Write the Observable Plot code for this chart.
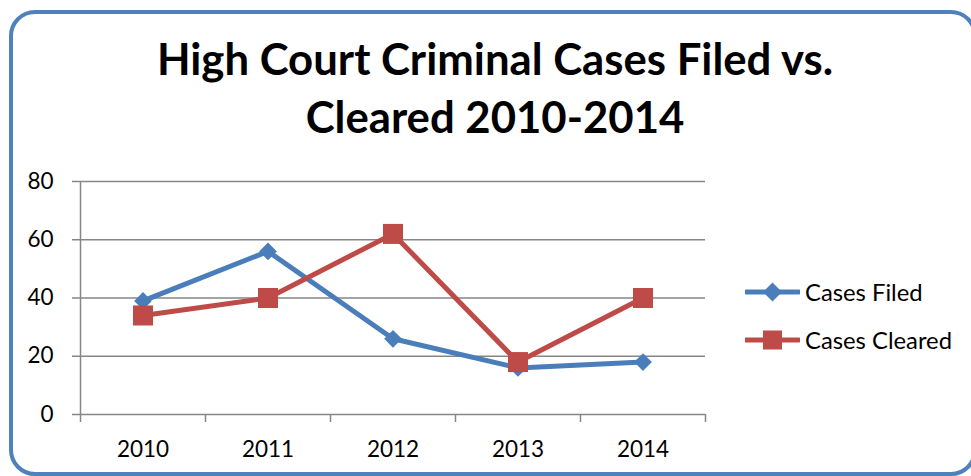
<!DOCTYPE html>
<html>
<head>
<meta charset="utf-8">
<script src="https://cdn.jsdelivr.net/npm/d3@7"></script>
<script src="https://cdn.jsdelivr.net/npm/@observablehq/plot@0.6"></script>
<style>
  html, body { margin: 0; padding: 0; background: #fff; overflow: hidden; }
  #wrap { position: relative; width: 971px; height: 476px; overflow: hidden; font-family: Lato, "Open Sans", sans-serif; color: #000; }
  #frame { position: absolute; left: 9px; top: 10px; width: 960px; height: 458px; border: 4.5px solid #4F81BD; border-radius: 26px; }
  #title { position: absolute; left: 0; top: 29px; width: 990px; text-align: center; font-weight: 700; font-size: 43.7px; line-height: 58px; white-space: nowrap; }
  #chart { position: absolute; left: 0; top: 160px; }
  .leg { position: absolute; left: 745px; display: flex; align-items: center; font-size: 23.8px; height: 30px; white-space: nowrap; }
  .leg svg { margin-right: 5px; }
</style>
</head>
<body>
<div id="wrap">
  <div id="frame"></div>
  <div id="title">High Court Criminal Cases Filed vs.<br>Cleared 2010-2014</div>
  <div id="chart"></div>
  <div id="legend"></div>
</div>
<script>
const years = [2010, 2011, 2012, 2013, 2014];
const casesFiled = [39, 56, 26, 16, 18];
const casesCleared = [34, 40, 62, 18, 40];
const yTicks = [0, 20, 40, 60, 80];
const seriesNames = ["Cases Filed", "Cases Cleared"];
const seriesColors = ["#4A7EBB", "#BE4B48"];

const filed = years.map((y, i) => ({year: y, value: casesFiled[i]}));
const cleared = years.map((y, i) => ({year: y, value: casesCleared[i]}));
const boundaries = years.map(y => y - 0.5).concat([years[years.length - 1] + 0.5]);

const gridColor = "#868686";

const chart = Plot.plot({
  width: 971,
  height: 316,
  marginLeft: 80,
  marginRight: 266,
  marginTop: 21,
  marginBottom: 62,
  style: {fontFamily: "Lato, 'Open Sans', sans-serif", color: "#000", background: "transparent", overflow: "visible"},
  x: {type: "linear", domain: [boundaries[0], boundaries[boundaries.length - 1]], axis: null},
  y: {domain: [0, 80], axis: null},
  marks: [
    Plot.gridY(yTicks, {stroke: gridColor, strokeOpacity: 1, strokeWidth: 1.5}),
    Plot.ruleX([boundaries[0]], {stroke: gridColor, strokeWidth: 1.5}),
    Plot.axisY(yTicks, {label: null, tickSize: 8, tickPadding: 19, fontSize: 22.5, stroke: gridColor, strokeWidth: 1.5, strokeOpacity: 1, fill: "#000"}),
    Plot.axisX(boundaries, {label: null, tickSize: 8, tickFormat: () => "", stroke: gridColor, strokeWidth: 1.5, strokeOpacity: 1}),
    Plot.axisX(years, {label: null, tickSize: 0, tickPadding: 27, fontSize: 22.5, tickFormat: d => String(d), fill: "#000"}),
    Plot.line(filed, {x: "year", y: "value", stroke: seriesColors[0], strokeWidth: 5, strokeLinejoin: "round"}),
    Plot.dot(filed, {x: "year", y: "value", symbol: "diamond2", r: 8, fill: seriesColors[0], stroke: null}),
    Plot.line(cleared, {x: "year", y: "value", stroke: seriesColors[1], strokeWidth: 5, strokeLinejoin: "round"}),
    Plot.dot(cleared, {x: "year", y: "value", symbol: "square", r: 11.3, fill: seriesColors[1], stroke: null})
  ]
});
document.getElementById("chart").appendChild(chart);

// Legend
const legend = document.getElementById("legend");
const legTops = [277, 325];
seriesNames.forEach((name, i) => {
  const row = document.createElement("div");
  row.className = "leg";
  row.style.top = legTops[i] + "px";
  const marker = i === 0
    ? `<polygon points="27.5,20 37,29.5 27.5,39 18,29.5" fill="${seriesColors[i]}"/>`
    : `<rect x="18" y="20" width="19" height="19" fill="${seriesColors[i]}"/>`;
  row.innerHTML = `<svg width="55" height="30" viewBox="0 14.5 55 30"><line x1="1" x2="54" y1="29.5" y2="29.5" stroke="${seriesColors[i]}" stroke-width="5" stroke-linecap="round"/>${marker}</svg><span>${name}</span>`;
  legend.appendChild(row);
});
</script>
</body>
</html>
